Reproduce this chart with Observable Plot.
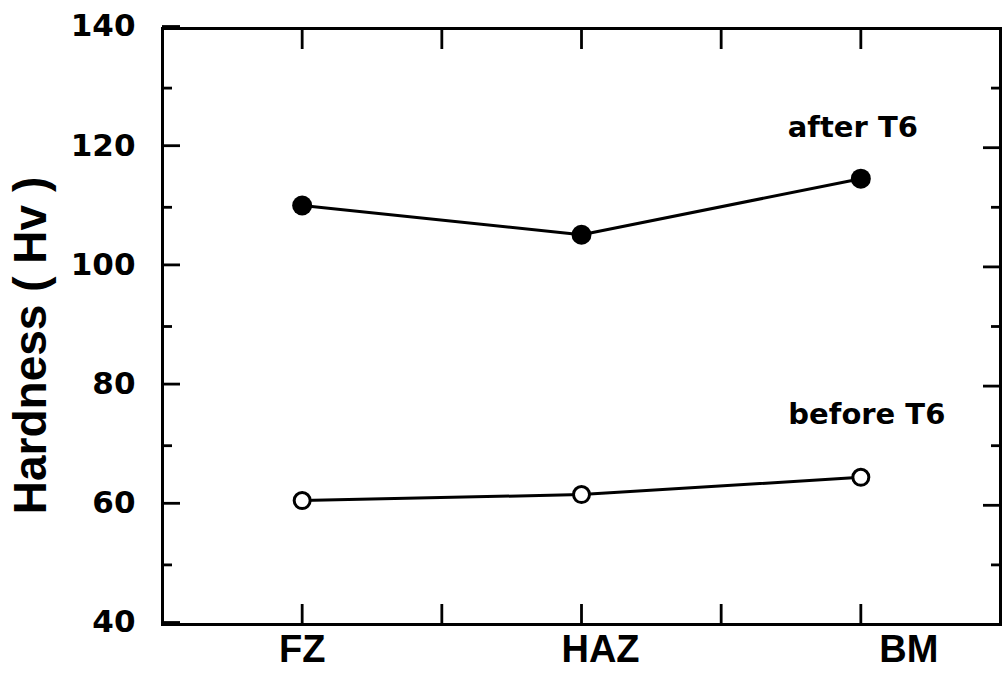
<!DOCTYPE html>
<html><head><meta charset="utf-8">
<script src="https://cdn.jsdelivr.net/npm/d3@7"></script>
<script src="https://cdn.jsdelivr.net/npm/@observablehq/plot@0.6"></script>
<style>body{margin:0;background:#fff} svg{display:block}</style>
</head><body><div id="chart"></div>
<script>
const categories = ["FZ", "HAZ", "BM"];
const afterT6 = [110.3, 105.4, 114.8];
const beforeT6 = [60.8, 61.8, 64.7];
const seriesNames = ["after T6", "before T6"];
const yMajorTicks = [40, 60, 80, 100, 120, 140];
const yMinorTicks = [50, 70, 90, 110, 130];
const xTicks = [1, 2, 3, 4, 5];
const yLabel = "Hardness ( Hv )";

const catX = categories.map((c, i) => 2 * i + 1);
const after = categories.map((c, i) => ({cat: c, x: catX[i], y: afterT6[i], series: seriesNames[0]}));
const before = categories.map((c, i) => ({cat: c, x: catX[i], y: beforeT6[i], series: seriesNames[1]}));
const cats = categories.map((c, i) => ({cat: c, x: catX[i]}));

const tickFont = "DejaVu Sans";
const labelFont = "Liberation Sans, Arial, sans-serif";

const chart = Plot.plot({
  width: 1002,
  height: 685,
  marginLeft: 162,
  marginRight: 2,
  marginTop: 28,
  marginBottom: 61,
  style: {fontFamily: tickFont, background: "white", color: "black", overflow: "visible"},
  x: {type: "linear", domain: [0, 6], axis: null},
  y: {domain: [40, 140], axis: null},
  marks: [
    Plot.frame({stroke: "black", strokeWidth: 3}),
    // left major ticks with labels
    Plot.axisY({anchor: "left", ticks: yMajorTicks, tickSize: -18, tickPadding: 45, strokeWidth: 2.8,
      fontSize: 31, fontWeight: "bold", fontFamily: tickFont, label: null, dy: -2}),
    Plot.axisY({anchor: "left", ticks: yMinorTicks, tickSize: -10, strokeWidth: 2.8, tickFormat: () => "", label: null}),
    Plot.axisY({anchor: "right", ticks: yMajorTicks, tickSize: -18, strokeWidth: 2.8, tickFormat: () => "", label: null}),
    Plot.axisY({anchor: "right", ticks: yMinorTicks, tickSize: -10, strokeWidth: 2.8, tickFormat: () => "", label: null}),
    Plot.axisX({anchor: "bottom", ticks: xTicks, tickSize: -20, strokeWidth: 2.8, tickFormat: () => "", label: null}),
    Plot.axisX({anchor: "top", ticks: xTicks, tickSize: -20, strokeWidth: 2.8, tickFormat: () => "", label: null}),
    // category labels
    Plot.text(cats.filter(d => d.cat === "FZ"), {x: "x", text: "cat", frameAnchor: "bottom", dy: 37, fontSize: 38, fontWeight: "bold", fontFamily: labelFont}),
    Plot.text(cats.filter(d => d.cat === "HAZ"), {x: "x", text: "cat", frameAnchor: "bottom", dy: 37, dx: 19, fontSize: 38, fontWeight: "bold", fontFamily: labelFont}),
    Plot.text(cats.filter(d => d.cat === "BM"), {x: "x", text: "cat", frameAnchor: "bottom", dy: 37, dx: 48, fontSize: 38, fontWeight: "bold", fontFamily: labelFont}),
    // y axis title
    Plot.text([yLabel], {frameAnchor: "left", textAnchor: "middle", rotate: -90, dx: -131, dy: 19, fontSize: 46, fontWeight: "bold", fontFamily: labelFont}),
    // series lines
    Plot.line(after, {x: "x", y: "y", stroke: "black", strokeWidth: 3}),
    Plot.line(before, {x: "x", y: "y", stroke: "black", strokeWidth: 3}),
    Plot.dot(after, {x: "x", y: "y", r: 10, fill: "black", stroke: "none"}),
    Plot.dot(before, {x: "x", y: "y", r: 8, fill: "white", stroke: "black", strokeWidth: 3}),
    // series labels
    Plot.text(after.filter(d => d.cat === "BM"), {x: "x", y: "y", text: "series", dx: -8, dy: -51, fontSize: 29, fontWeight: "bold", fontFamily: tickFont}),
    Plot.text(before.filter(d => d.cat === "BM"), {x: "x", y: "y", text: "series", dx: 6, dy: -63, fontSize: 29, fontWeight: "bold", fontFamily: tickFont})
  ]
});
document.getElementById("chart").appendChild(chart);
</script>
</body></html>
